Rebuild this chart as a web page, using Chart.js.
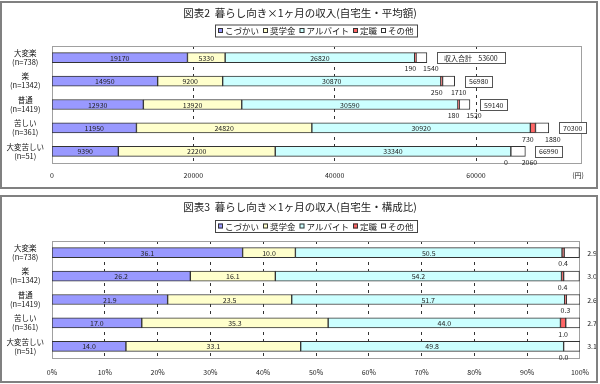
<!DOCTYPE html>
<html>
<head>
<meta charset="utf-8">
<script src="https://cdn.jsdelivr.net/npm/chart.js@4/dist/chart.umd.min.js"></script>
<style>
  body { margin: 0; background: #fff; width: 600px; height: 384px; overflow: hidden; position: relative; }
  canvas { position: absolute; left: 0; }
  #c1 { top: 0; }
  #c2 { top: 192px; }
  .panel { position: absolute; left: 0; width: 594px; height: 184px; border: 2px solid #808080; pointer-events: none; }
  #p1 { top: 1px; }
  #p2 { top: 195px; }
</style>
</head>
<body>
<canvas id="c1" width="600" height="190"></canvas>
<canvas id="c2" width="600" height="192"></canvas>
<div class="panel" id="p1"></div>
<div class="panel" id="p2"></div>
<script>
  // カテゴリ
  const categories = [
    ["大変楽", "(n=738)"],
    ["楽", "(n=1342)"],
    ["普通", "(n=1419)"],
    ["苦しい", "(n=361)"],
    ["大変苦しい", "(n=51)"],
  ];
  const seriesNames = ["こづかい", "奨学金", "アルバイト", "定職", "その他"];

  // 図表2 平均額(円)
  const kozukai = [19170, 14950, 12930, 11950, 9390];
  const shogakukin = [5330, 9200, 13920, 24820, 22200];
  const arubaito = [26820, 30870, 30590, 30920, 33340];
  const teishoku = [190, 250, 180, 730, 0];
  const sonota = [1540, 1710, 1520, 1880, 2060];
  const totals = [53600, 56980, 59140, 70300, 66990];
  const yenTicks = [0, 20000, 40000, 60000];

  // 図表3 構成比(%)
  const kozukaiPct = [36.1, 26.2, 21.9, 17.0, 14.0];
  const shogakukinPct = [10.0, 16.1, 23.5, 35.3, 33.1];
  const arubaitoPct = [50.5, 54.2, 51.7, 44.0, 49.8];
  const teishokuPct = [0.4, 0.4, 0.3, 1.0, 0.0];
  const sonotaPct = [2.9, 3.0, 2.6, 2.7, 3.1];
  const pctTicks = [0, 10, 20, 30, 40, 50, 60, 70, 80, 90, 100];

  const colors = ["#9999ff", "#ffffcc", "#ccffff", "#ff6666", "#ffffff"];
  const FONT = "'Noto Sans CJK JP', sans-serif";
  Chart.defaults.font.family = FONT;

  // 枠・タイトル・凡例・データラベル
  const drawPlugin = {
    id: "draw",
    beforeDatasetsDraw(chart) {
      const a = chart.chartArea;
      const ctx = chart.ctx;
      ctx.save();
      ctx.strokeStyle = "#a0a0a0";
      ctx.lineWidth = 1;
      ctx.strokeRect(a.left + 0.5, a.top + 0.5, a.right - a.left - 1, a.bottom - a.top);
      ctx.restore();
    },
    afterDraw(chart, args, opts) {
      const ctx = chart.ctx;
      const a = chart.chartArea;
      ctx.save();
      ctx.textBaseline = "middle";

      // タイトル
      ctx.fillStyle = "#222";
      ctx.textAlign = "center";
      ctx.font = "10.5px " + FONT;
      ctx.fillText(opts.title, 300, opts.titleY);

      // 凡例
      ctx.font = "8.5px " + FONT;
      const ds = chart.data.datasets;
      const widths = ds.map((d) => 7 + ctx.measureText(d.label).width);
      const gap = 4;
      const w = widths.reduce((s, v) => s + v, 0) + gap * (ds.length - 1) + 6;
      let x = Math.round(opts.legendX - w / 2);
      const y = opts.legendY;
      ctx.strokeStyle = "#444";
      ctx.lineWidth = 1;
      ctx.strokeRect(x + 0.5, y - 6 + 0.5, Math.round(w), 12);
      x += 3;
      ds.forEach((d, i) => {
        ctx.fillStyle = d.backgroundColor;
        ctx.fillRect(x, y - 2.5, 5, 5);
        ctx.strokeStyle = "#333";
        ctx.strokeRect(x + 0.5, y - 2, 4, 4);
        ctx.fillStyle = "#222";
        ctx.textAlign = "left";
        ctx.fillText(d.label, x + 7, y + 0.5);
        x += widths[i] + gap;
      });

      // データラベル
      ctx.font = "7px " + FONT;
      ctx.fillStyle = "#222";
      ctx.textAlign = "center";
      ds.forEach((d, i) => {
        const meta = chart.getDatasetMeta(i);
        meta.data.forEach((bar, j) => {
          const txt = opts.fmt(d.data[j]);
          const mid = (bar.base + bar.x) / 2;
          if (i < 3) {
            ctx.fillText(txt, mid, bar.y + 0.5);
          } else if (i === 3) {
            ctx.fillText(txt, mid + opts.teiShift, bar.y + 11);
          } else if (opts.sonotaOutside) {
            ctx.fillText(txt, a.right + 12, bar.y + 0.5);
          } else {
            ctx.fillText(txt, bar.x + 4, bar.y + 11);
          }
        });
      });

      // 収入合計
      if (opts.totals) {
        const last = chart.getDatasetMeta(ds.length - 1);
        last.data.forEach((bar, j) => {
          const txt = (j === 0 ? "収入合計    " : "") + opts.totals[j];
          const tw = ctx.measureText(txt).width + (j === 0 ? 14 : 8);
          const bx = Math.round(bar.x + 10);
          const by = Math.round(bar.y - 5.5);
          ctx.fillStyle = "#fff";
          ctx.fillRect(bx, by, tw, 11);
          ctx.strokeStyle = "#555";
          ctx.strokeRect(bx + 0.5, by + 0.5, Math.round(tw), 11);
          ctx.fillStyle = "#222";
          ctx.fillText(txt, bx + tw / 2, bar.y + 0.5);
        });
      }

      // 単位
      if (opts.unit) {
        ctx.fillText(opts.unit, 578, 175);
      }
      ctx.restore();
    },
  };

  function makeChart(id, values, cfg) {
    const datasets = values.map((v, i) => ({
      label: seriesNames[i],
      data: v,
      backgroundColor: colors[i],
      borderColor: "#333",
      borderWidth: 1,
      borderSkipped: false,
      barThickness: 10,
    }));
    return new Chart(document.getElementById(id), {
      type: "bar",
      data: { labels: categories, datasets: datasets },
      plugins: [drawPlugin],
      options: {
        indexAxis: "y",
        responsive: false,
        animation: false,
        layout: { padding: { left: 0, right: cfg.padRight, top: cfg.padTop, bottom: 0 } },
        plugins: {
          legend: { display: false },
          title: { display: false },
          tooltip: { enabled: false },
          draw: cfg.draw,
        },
        scales: {
          x: {
            stacked: true,
            min: 0,
            max: cfg.max,
            afterBuildTicks: (s) => {
              s.ticks = cfg.ticks.map((v) => ({ value: v }));
            },
            afterFit: (s) => {
              s.height = cfg.xHeight;
            },
            ticks: {
              autoSkip: false,
              maxRotation: 0,
              padding: cfg.tickPad,
              color: "#222",
              font: { size: 7 },
              callback: cfg.tickFmt,
            },
            grid: {
              drawTicks: false,
              color: "#333",
              lineWidth: (c) => (c.tick && (c.tick.value === 0 || c.tick.value === cfg.max) ? 0 : 1),
            },
            border: { display: false, dash: [3, 4] },
          },
          y: {
            stacked: true,
            afterFit: (s) => {
              s.width = 52;
            },
            grid: { display: false },
            border: { display: false },
            ticks: {
              crossAlign: "center",
              padding: 0,
              color: "#111",
              font: { size: 7.5, lineHeight: 1.2 },
            },
          },
        },
      },
    });
  }

  makeChart("c1", [kozukai, shogakukin, arubaito, teishoku, sonota], {
    max: 75000,
    ticks: yenTicks,
    padTop: 46,
    padRight: 18,
    xHeight: 27,
    tickPad: 8,
    tickFmt: (v) => String(v),
    draw: {
      title: "図表2  暮らし向き×1ヶ月の収入(自宅生・平均額)",
      titleY: 13,
      legendX: 316,
      legendY: 30.5,
      fmt: (v) => String(v),
      teiShift: -5,
      sonotaOutside: false,
      totals: totals,
      unit: "(円)",
    },
  });

  makeChart("c2", [kozukaiPct, shogakukinPct, arubaitoPct, teishokuPct, sonotaPct], {
    max: 100,
    ticks: pctTicks,
    padTop: 49,
    padRight: 20,
    xHeight: 26,
    tickPad: 10,
    tickFmt: (v) => v + "%",
    draw: {
      title: "図表3  暮らし向き×1ヶ月の収入(自宅生・構成比)",
      titleY: 15,
      legendX: 316,
      legendY: 34,
      fmt: (v) => v.toFixed(1),
      teiShift: 0,
      sonotaOutside: true,
      totals: null,
      unit: null,
    },
  });
</script>
</body>
</html>
